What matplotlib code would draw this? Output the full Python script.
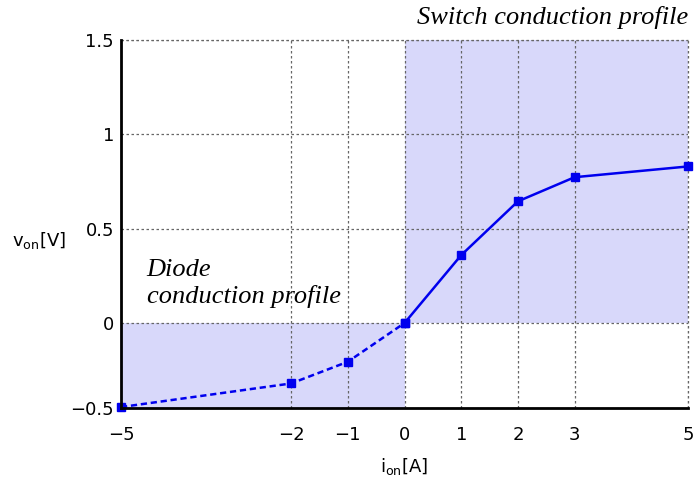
import numpy as np
import matplotlib.pyplot as plt

# switch conduction (i >= 0) and diode conduction (i <= 0)
i_switch = [0, 1, 2, 3, 5]
v_switch = [0, 0.36, 0.645, 0.773, 0.83]
i_diode = [-5, -2, -1, 0]
v_diode = [-0.445, -0.32, -0.205, 0]

xticks = [-5, -2, -1, 0, 1, 2, 3, 5]
yticks = [-0.45, 0, 0.5, 1, 1.5]
ytick_labels = ['\u22120.5', '0', '0.5', '1', '1.5']
xtick_labels = ['\u22125', '\u22122', '\u22121', '0', '1', '2', '3', '5']

fill_c = '#d8d8fa'
line_c = '#0000ee'
grid_c = '#666666'

fig = plt.figure(figsize=(6.94, 4.8), dpi=100)
ax = fig.add_axes([121 / 694, 1 - 408 / 480, (688 - 121) / 694, (408 - 40) / 480])

xmin, xmax = -5, 5
ymin, ymax = -0.45, 1.5
ax.set_xlim(xmin, xmax)
ax.set_ylim(ymin, ymax)

# shaded conduction regions
ax.fill_between([0, xmax], 0, ymax, color=fill_c, lw=0, zorder=0)
ax.fill_between([xmin, 0], ymin, 0, color=fill_c, lw=0, zorder=0)

ax.plot(i_switch, v_switch, '-', color=line_c, lw=1.8, marker='s', ms=6, zorder=3, clip_on=False)
ax.plot(i_diode, v_diode, '--', color=line_c, lw=1.8, marker='s', ms=6, zorder=3,
        dashes=(2.5, 1.5), clip_on=False)

ax.set_xticks(xticks)
ax.set_xticklabels(xtick_labels)
ax.set_yticks(yticks)
ax.set_yticklabels(ytick_labels)
ax.tick_params(length=0, labelsize=13)
ax.tick_params(axis='x', pad=13)
ax.tick_params(axis='y', pad=5)
ax.grid(True, color=grid_c, ls=(0, (2, 2)), lw=0.9, zorder=1)
# edge grid lines (right and top) get clipped, draw them again
ax.axvline(xmax, color=grid_c, ls=(0, (2, 2)), lw=0.9, zorder=1, clip_on=False)
ax.axhline(ymax, color=grid_c, ls=(0, (2, 2)), lw=0.9, zorder=1, clip_on=False)
ax.set_axisbelow(False)
for s in ['top', 'right']:
    ax.spines[s].set_visible(False)
for s in ['left', 'bottom']:
    ax.spines[s].set_linewidth(2)
    ax.spines[s].set_zorder(4)

ax.set_xlabel(r'i$_{\mathregular{on}}$[A]', fontsize=13)
ax.xaxis.set_label_coords(0.5, -0.13)
ax.set_ylabel(r'v$_{\mathregular{on}}$[V]', fontsize=13, rotation=0, va='center')
ax.yaxis.set_label_coords(-0.145, 0.455)

tfont = dict(family='Liberation Serif', style='italic', fontsize=19)
ax.text(xmax, 1.5 + 0.06, 'Switch conduction profile', ha='right', va='bottom', **tfont)
ax.text(-4.55, 0.08, 'Diode\nconduction profile', ha='left', va='bottom', linespacing=1.2, **tfont)

fig.savefig('out.png', dpi=100)
